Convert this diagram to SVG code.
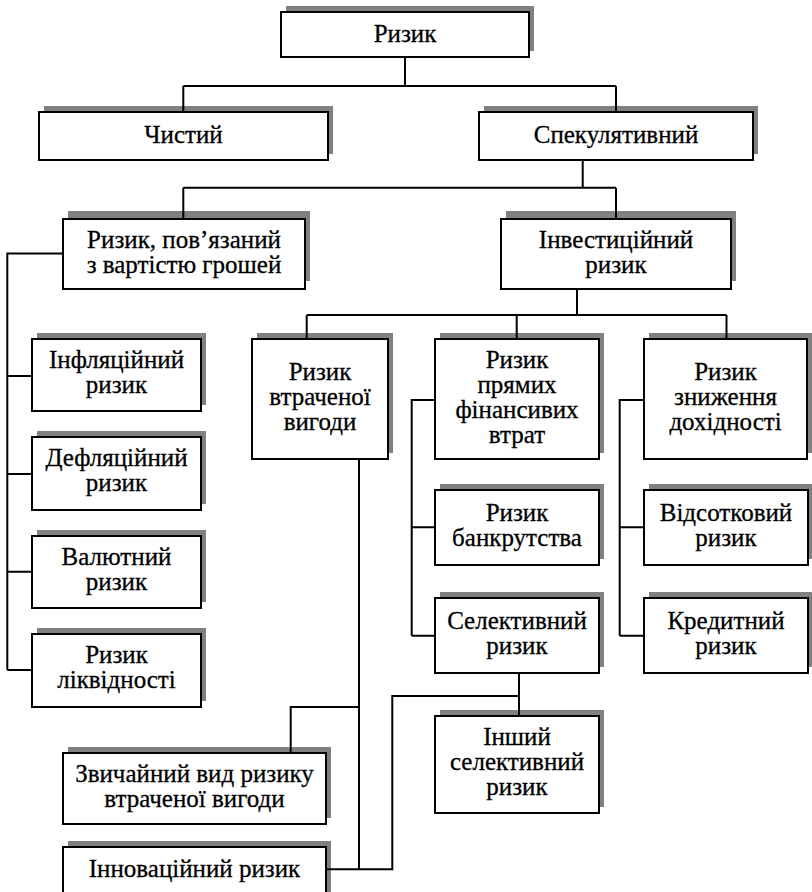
<svg xmlns="http://www.w3.org/2000/svg" width="812" height="892" viewBox="0 0 812 892">
<style>
.sh{fill:#808080;stroke:none}
.bx{fill:#ffffff;stroke:#000000;stroke-width:2}
.t{font-family:'Liberation Serif','Times New Roman',serif;font-size:25px;fill:#000000;stroke:#000000;stroke-width:0.3;text-anchor:middle}
.c{fill:none;stroke:#000000;stroke-width:2}
</style>
<rect x="0" y="0" width="812" height="892" fill="#ffffff"/>
<g id="n-rizyk"><rect class="sh" x="286" y="6" width="248" height="45"/><rect class="bx" x="281" y="12" width="248" height="45"/><text class="t" x="405" y="42">Ризик</text></g>
<g id="n-chystyi"><rect class="sh" x="44" y="106" width="289" height="48"/><rect class="bx" x="39" y="112" width="289" height="48"/><text class="t" x="183.5" y="143">Чистий</text></g>
<g id="n-spek"><rect class="sh" x="484" y="106" width="274" height="48"/><rect class="bx" x="479" y="112" width="274" height="48"/><text class="t" x="616" y="143">Спекулятивний</text></g>
<g id="n-pov"><rect class="sh" x="68" y="211" width="242" height="70"/><rect class="bx" x="63" y="219" width="242" height="70"/><text class="t" x="184" y="248">Ризик, пов’язаний</text><text class="t" x="184" y="273">з вартістю грошей</text></g>
<g id="n-invest"><rect class="sh" x="506" y="211" width="230" height="70"/><rect class="bx" x="501" y="219" width="230" height="70"/><text class="t" x="616" y="248">Інвестиційний</text><text class="t" x="616" y="273">ризик</text></g>
<g id="n-infl"><rect class="sh" x="37" y="333" width="169" height="72"/><rect class="bx" x="32" y="339" width="169" height="72"/><text class="t" x="116.5" y="368">Інфляційний</text><text class="t" x="116.5" y="393">ризик</text></g>
<g id="n-defl"><rect class="sh" x="37" y="431" width="169" height="73"/><rect class="bx" x="32" y="437" width="169" height="73"/><text class="t" x="116.5" y="466">Дефляційний</text><text class="t" x="116.5" y="491">ризик</text></g>
<g id="n-valut"><rect class="sh" x="37" y="530" width="169" height="72"/><rect class="bx" x="32" y="536" width="169" height="72"/><text class="t" x="116.5" y="565">Валютний</text><text class="t" x="116.5" y="590">ризик</text></g>
<g id="n-likv"><rect class="sh" x="37" y="628" width="169" height="73"/><rect class="bx" x="32" y="634" width="169" height="73"/><text class="t" x="116.5" y="663">Ризик</text><text class="t" x="116.5" y="688">ліквідності</text></g>
<g id="n-vtrach"><rect class="sh" x="257" y="333" width="136" height="120"/><rect class="bx" x="252" y="339" width="136" height="120"/><text class="t" x="320" y="380">Ризик</text><text class="t" x="320" y="405">втраченої</text><text class="t" x="320" y="430">вигоди</text></g>
<g id="n-priamykh"><rect class="sh" x="440" y="333" width="164" height="120"/><rect class="bx" x="435" y="339" width="164" height="120"/><text class="t" x="517" y="368">Ризик</text><text class="t" x="517" y="393">прямих</text><text class="t" x="517" y="418">фінансивих</text><text class="t" x="517" y="443">втрат</text></g>
<g id="n-znyzh"><rect class="sh" x="649" y="333" width="163" height="120"/><rect class="bx" x="644" y="339" width="163" height="120"/><text class="t" x="725.5" y="380">Ризик</text><text class="t" x="725.5" y="405">зниження</text><text class="t" x="725.5" y="430">дохідності</text></g>
<g id="n-bankr"><rect class="sh" x="440" y="484" width="164" height="75"/><rect class="bx" x="435" y="490" width="164" height="75"/><text class="t" x="517" y="521">Ризик</text><text class="t" x="517" y="546">банкрутства</text></g>
<g id="n-selekt"><rect class="sh" x="440" y="592" width="164" height="75"/><rect class="bx" x="435" y="598" width="164" height="75"/><text class="t" x="517" y="629">Селективний</text><text class="t" x="517" y="654">ризик</text></g>
<g id="n-vidsot"><rect class="sh" x="649" y="484" width="164" height="75"/><rect class="bx" x="644" y="490" width="164" height="75"/><text class="t" x="726" y="521">Відсотковий</text><text class="t" x="726" y="546">ризик</text></g>
<g id="n-kredyt"><rect class="sh" x="649" y="592" width="164" height="75"/><rect class="bx" x="644" y="598" width="164" height="75"/><text class="t" x="726" y="629">Кредитний</text><text class="t" x="726" y="654">ризик</text></g>
<g id="n-inshyi"><rect class="sh" x="440" y="710" width="164" height="97"/><rect class="bx" x="435" y="716" width="164" height="97"/><text class="t" x="517" y="745">Інший</text><text class="t" x="517" y="770">селективний</text><text class="t" x="517" y="795">ризик</text></g>
<g id="n-zvych"><rect class="sh" x="68" y="747" width="263" height="71"/><rect class="bx" x="63" y="753" width="263" height="71"/><text class="t" x="194.5" y="782">Звичайний вид ризику</text><text class="t" x="194.5" y="807">втраченої вигоди</text></g>
<g id="n-innov"><rect class="sh" x="68" y="841" width="263" height="72"/><rect class="bx" x="63" y="847" width="263" height="72"/><text class="t" x="194.5" y="877">Інноваційний ризик</text></g>
<g id="connectors">
<path class="c" d="M405 57 V86 M183.3 86 H616 M183.3 86 V112 M616 86 V112"/>
<path class="c" d="M582.7 160 V187.7 M183.3 187.7 H616 M183.3 187.7 V219 M616 187.7 V219"/>
<path class="c" d="M63 253.5 H7.3 V670 M7.3 376 H32 M7.3 474 H32 M7.3 571.7 H32 M7.3 670 H32"/>
<path class="c" d="M577 289 V315 M306.7 315 H726.5 M306.7 315 V339 M516.7 315 V339 M726.5 315 V339"/>
<path class="c" d="M435 400 H411.7 V635.7 M411.7 527.3 H435 M411.7 635.7 H435"/>
<path class="c" d="M644 400 H619.7 V635.7 M619.7 527.3 H644 M619.7 635.7 H644"/>
<path class="c" d="M359 459 V869.3 M359 707 H290.7 V753"/>
<path class="c" d="M326 869.3 H392.3 V696 H519 M519 673 V716"/>
</g>
</svg>
